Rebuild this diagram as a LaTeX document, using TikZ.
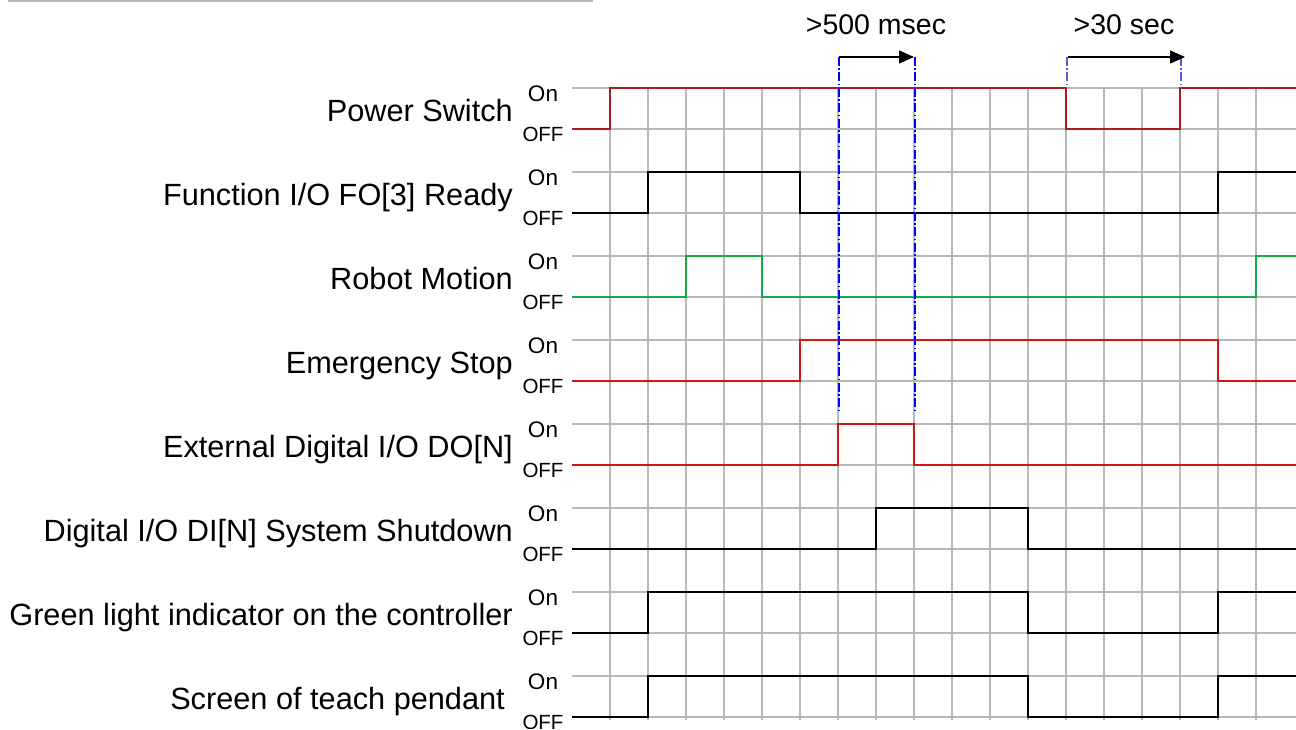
\documentclass[tikz,border=0pt]{standalone}
\usepackage{fontspec}
\setmainfont{Liberation Sans}
\usetikzlibrary{arrows.meta, positioning}
\definecolor{gridgray}{RGB}{185,185,185}
\definecolor{pwrred}{RGB}{170,30,30}
\definecolor{sigred}{RGB}{210,20,20}
\definecolor{siggreen}{RGB}{20,170,70}
\definecolor{markblue}{RGB}{0,0,255}
\definecolor{markgray}{RGB}{90,90,210}

\begin{document}
\begin{tikzpicture}[
  x=1pt, y=-1pt,
  siglabel/.style={anchor=base east, inner sep=0pt, font=\fontsize{30.7}{34}\selectfont},
  onlbl/.style={anchor=base, inner sep=0pt, font=\fontsize{22.5}{24}\selectfont},
  offlbl/.style={anchor=base, inner sep=0pt, font=\fontsize{20.5}{24}\selectfont},
  timelbl/.style={anchor=base, inner sep=0pt, font=\fontsize{28.5}{30}\selectfont},
  gridln/.style={draw=gridgray, line width=1.4pt},
  sig/.style={line width=2.6pt},
  marker/.style={line width=1.2pt, dash pattern=on 9pt off 2.5pt on 1.5pt off 2.5pt},
  >={Triangle[length=15pt, width=13pt]}
]
  \useasboundingbox (0,0) rectangle (1296,730);

  % Top rule
  \draw[gridln] (8,1) -- (593,1);

  % Grid
  \foreach \k in {0,...,17}
    \draw[gridln] ({610+38*\k},88) -- ({610+38*\k},720);
  \foreach \i in {0,...,7} {
    \draw[gridln] (572,{88+84*\i}) -- (1296,{88+84*\i});
    \draw[gridln, line width=1.9pt] (572,{129+84*\i}) -- (1296,{129+84*\i});
  }

  % Signal names and levels
  \foreach \i/\lbl/\xr in {0/{Power Switch}/513, 1/{Function I/O FO[3] Ready}/513,
      2/{Robot Motion}/513, 3/{Emergency Stop}/513,
      4/{External Digital I/O DO[N]}/513, 5/{Digital I/O DI[N] System Shutdown}/513,
      6/{Green light indicator on the controller}/513, 7/{Screen of teach pendant}/505} {
    \node[siglabel] (lab\i) at (\xr,{121.5+84*\i}) {\lbl};
    \node[onlbl] (on\i) at (543,{101.5+84*\i}) {On};
    \node[offlbl] (off\i) at (543,{141.5+84*\i}) {OFF};
  }

  % Waveforms
  \draw[sig, pwrred] (572,129) -| (610,88) -| (1066,129) -| (1180,88) -- (1296,88);
  \draw[sig, black] (572,213) -| (648,172) -| (800,213) -| (1218,172) -- (1296,172);
  \draw[sig, siggreen] (572,297) -| (686,256) -| (762,297) -| (1256,256) -- (1296,256);
  \draw[sig, sigred] (572,381) -| (800,340) -| (1218,381) -- (1296,381);
  \draw[sig, sigred] (572,465) -| (838,424) -| (914,465) -- (1296,465);
  \draw[sig, black] (572,549) -| (876,508) -| (1028,549) -- (1296,549);
  \draw[sig, black] (572,633) -| (648,592) -| (1028,633) -| (1218,592) -- (1296,592);
  \draw[sig, black] (572,717) -| (648,676) -| (1028,717) -| (1218,676) -- (1296,676);

  % Timing marks
  \coordinate (ma) at (839,57);
  \coordinate (mb) at (915,57);
  \coordinate (mc) at (1067,57);
  \coordinate (md) at (1181,57);
  \draw[marker, markblue] (ma) -- (839,410);
  \draw[marker, markblue] (mb) -- (915,410);
  \draw[marker, markgray] (mc) -- (1067,88);
  \draw[marker, markgray] (md) -- (1181,88);
  \draw[->, line width=1.2pt] (ma) -- ([xshift=-1pt]mb);
  \draw[->, line width=1.2pt] ([xshift=1pt]mc) -- ([xshift=4pt]md);

  \node[timelbl] (t500) at (876,35) {>500 msec};
  \node[timelbl] (t30) at (1124,35) {>30 sec};
\end{tikzpicture}
\end{document}
